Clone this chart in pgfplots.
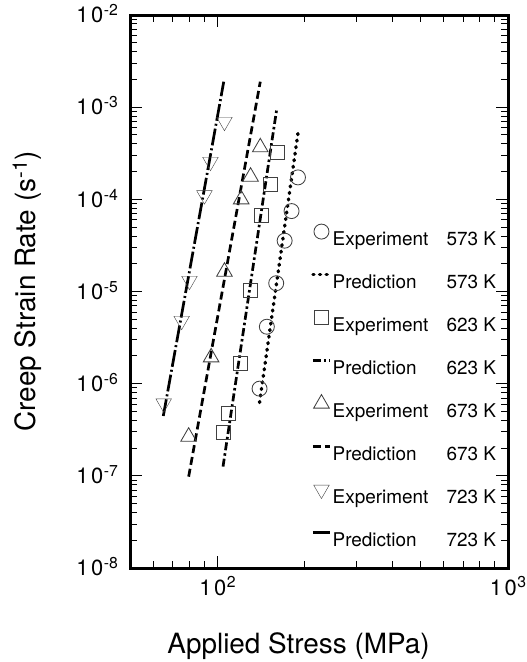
\documentclass[border=0pt]{standalone}
\usepackage{fontspec}
\setmainfont{TeX Gyre Heros}
\usepackage{pgfplots}
\pgfplotsset{compat=1.18}

% raised, reduced exponent that scales with the surrounding font
\newcommand{\sps}[1]{\raisebox{0.32em}{\scalebox{0.72}{#1}}}
\newcommand{\pten}[1]{1\kern2.5bp 0\kern0.5bp\sps{#1}}
% legend text: kind in a fixed-width column, then temperature
\newcommand{\entry}[2]{\makebox[114bp][l]{#1}#2}

\pgfplotsset{
  markleg/.style={legend image code/.code={%
      \path[draw=none,fill=none] (0bp,-9bp) rectangle (17bp,18bp);
      \draw[##1] plot coordinates {(8.5bp,9bp)};}},
  lineleg/.style={legend image code/.code={%
      \path[draw=none,fill=none] (0bp,-9bp) rectangle (17bp,18bp);
      \draw[##1] (0bp,9bp) -- (17bp,9bp);}},
  expmark/.style={only marks, color=black!75, mark options={solid, line width=0.85bp, fill=none}, markleg},
  pred/.style={black, line width=2.7bp, no marks, lineleg},
}

\begin{document}
\begin{tikzpicture}
\useasboundingbox (-130bp,-94bp) rectangle (397bp,568bp);
\begin{axis}[
  xmode=log, ymode=log,
  xmin=50, xmax=1000, ymin=1e-8, ymax=1e-2,
  width=378bp, height=553bp, scale only axis,
  axis line style={line width=3bp},
  tick style={line width=0.9bp, black},
  major tick length=12bp, minor tick length=7bp,
  tick align=inside,
  xtick={100,1000},
  xticklabels={\pten{2},\pten{3}},
  minor xtick={60,70,80,90,200,300,400,500,600,700,800,900},
  ytick={1e-8,1e-7,1e-6,1e-5,1e-4,1e-3,1e-2},
  yticklabels={\pten{-8},\pten{-7},\pten{-6},\pten{-5},\pten{-4},\pten{-3},\pten{-2}},
  ticklabel style={font=\fontsize{22}{26}\selectfont, inner sep=0pt},
  yticklabel style={anchor=base east, xshift=-12bp, yshift=-7.7bp},
  xticklabel style={anchor=base, yshift=-27bp},
  xlabel={Applied Stress (MPa)},
  ylabel={Creep Strain Rate (s\sps{-1})},
  xlabel style={at={(axis description cs:0.446,-0.154)}, anchor=base, font=\fontsize{28}{34}\selectfont},
  ylabel style={at={(axis description cs:-0.272,0.5)}, anchor=center, font=\fontsize{28}{34}\selectfont},
  legend cell align=left,
  legend style={draw=none, fill=none, inner sep=0pt,
    at={(axis description cs:0.479,0.625)}, anchor=north west,
    row sep=16bp, column sep=1bp,
    font=\fontsize{19}{22}\selectfont,
    nodes={inner sep=0pt, text height=14bp, text depth=4bp}},
]

% 573 K
\addplot[expmark, mark=o, mark size=7.5bp] coordinates {
  (189.3,1.73e-4) (179.9,7.46e-5) (170.3,3.56e-5)
  (159.3,1.23e-5) (147.9,4.15e-6) (139.6,8.83e-7)};
\addlegendentry{\entry{Experiment}{573 K}}
\addplot[pred, line cap=round, dash pattern=on 1bp off 5.6bp, line width=3.4bp] coordinates {
  (139.6,6.25e-7) (190.2,5.79e-4)};
\addlegendentry{\entry{Prediction}{573 K}}

% 623 K
\addplot[expmark, mark=square, mark size=7bp] coordinates {
  (160.2,3.24e-4) (152.4,1.46e-4) (142.2,6.76e-5) (130.0,1.04e-5)
  (119.8,1.66e-6) (109.4,4.78e-7) (104.9,2.94e-7)};
\addlegendentry{\entry{Experiment}{623 K}}
\addplot[pred, dash pattern=on 8bp off 3bp on 2.5bp off 3bp] coordinates {
  (104.5,1.26e-7) (160.2,9.86e-4)};
\addlegendentry{\entry{Prediction}{623 K}}

% 673 K
\addplot[expmark, mark=triangle, mark size=9bp] coordinates {
  (140.4,3.67e-4) (130.0,1.76e-4) (120.7,1.0e-4)
  (105.7,1.64e-5) (95.1,1.93e-6) (79.6,2.66e-7)};
\addlegendentry{\entry{Experiment}{673 K}}
\addplot[pred, dash pattern=on 8bp off 4bp] coordinates {
  (79.6,9.8e-8) (140.4,1.89e-3)};
\addlegendentry{\entry{Prediction}{673 K}}

% 723 K
\addplot[expmark, mark=triangle, mark size=9bp, mark options={rotate=180}] coordinates {
  (105.7,6.95e-4) (94.6,2.56e-4) (90.2,1.11e-4)
  (80.1,1.31e-5) (75.3,4.82e-6) (65.3,6.12e-7)};
\addlegendentry{\entry{Experiment}{723 K}}
\addplot[pred, dash pattern=on 17bp off 3bp on 2bp off 3bp] coordinates {
  (65.1,4.46e-7) (105.1,1.89e-3)};
\addlegendentry{\entry{Prediction}{723 K}}

\end{axis}
\end{tikzpicture}
\end{document}
